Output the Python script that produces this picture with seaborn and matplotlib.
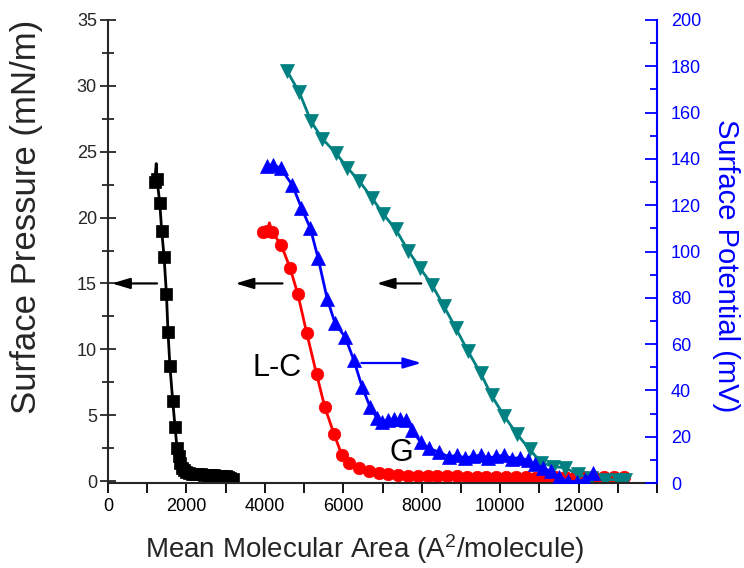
import matplotlib
matplotlib.use("Agg")
import matplotlib.pyplot as plt
import pandas as pd
import seaborn as sns
from matplotlib.ticker import MultipleLocator, FixedLocator

# ---- data ----
black_x = [1190, 1230, 1250, 1320, 1370, 1430, 1490, 1530, 1580, 1650, 1710, 1760, 1800,
           1840, 1880, 1930, 1990, 2060, 2140, 2220, 2300, 2380, 2460, 2540, 2620, 2700,
           2780, 2860, 2940, 3000, 3060, 3120, 3200]
black_y = [22.7, 24.1, 22.9, 21.1, 19.0, 17.0, 14.2, 11.3, 8.7, 6.1, 4.1, 2.5, 1.9,
           1.4, 1.0, 0.8, 0.7, 0.6, 0.55, 0.5, 0.5, 0.5, 0.45, 0.45, 0.45, 0.45,
           0.4, 0.4, 0.4, 0.35, 0.3, 0.25, 0.15]

red_x = [3940, 4065, 4115, 4190, 4420, 4640, 4840, 5070, 5320, 5530, 5760, 5960, 6150,
         6400, 6650, 6900, 7150, 7400, 7650, 7900, 8150, 8400, 8650, 8900, 9150, 9400,
         9650, 9900, 10150, 10400, 10650, 10900, 11150, 11400, 11650, 11900, 12150,
         12400, 12650, 12900, 13150]
red_y = [18.9, 19.0, 19.6, 18.9, 17.9, 16.2, 14.2, 11.2, 8.1, 5.6, 3.6, 2.0, 1.4,
         1.0, 0.75, 0.6, 0.5, 0.45, 0.4, 0.4, 0.35, 0.35, 0.35, 0.35, 0.3, 0.3,
         0.3, 0.3, 0.3, 0.3, 0.3, 0.25, 0.25, 0.3, 0.3, 0.3, 0.3,
         0.3, 0.3, 0.3, 0.3]

teal_x = [4570, 4880, 5180, 5460, 5810, 6100, 6400, 6730, 7010, 7340, 7650, 7950, 8260,
          8560, 8870, 9170, 9500, 9780, 10110, 10420, 10750, 11050, 11360, 11660, 11990,
          12320, 12670, 13000, 13180]
teal_y = [31.1, 29.5, 27.3, 26.0, 24.9, 23.8, 22.8, 21.5, 20.3, 19.1, 17.5, 16.2, 14.9,
          13.3, 11.6, 9.9, 8.2, 6.5, 4.9, 3.6, 2.4, 1.4, 1.1, 1.0, 0.5,
          0.2, 0.1, 0.1, 0.1]

blue_x = [4060, 4200, 4400, 4700, 4930, 5160, 5360, 5590, 5790, 6050, 6270, 6480, 6680,
          6860, 6990, 7150, 7300, 7450, 7600, 7750, 7970, 8180, 8430, 8690, 8900, 9100,
          9300, 9500, 9700, 9900, 10100, 10300, 10500, 10700, 10900, 11100, 11300, 11500,
          11730, 11950, 12170, 12370]
blue_y = [137, 137.5, 136, 128.7, 119, 110, 97, 79.5, 69, 63, 53, 41.5, 33,
          28, 26.5, 27, 27.5, 27.5, 27, 23, 17.7, 15, 13.4, 11.3, 12, 10.8,
          11.5, 12, 10.8, 11.5, 12, 10.5, 11, 9.8, 8.0, 6.5, 5.0, 2.6,
          0.8, 0.5, 1.5, 4.3]

x_ticks = [0, 2000, 4000, 6000, 8000, 10000, 12000]

# annotation arrows: (tail_x, head_x, y on pressure axis, colour)
arrows = [(1250, 100, 15.0, "black"),
          (4450, 3250, 15.0, "black"),
          (7990, 6850, 15.0, "black"),
          (6460, 7990, 8.96, "blue")]
phase_labels = [("L-C", 4320, 8.6), ("G", 7470, 2.1)]

x_label = "Mean Molecular Area (A$^2$/molecule)"
left_label = "Surface Pressure (mN/m)"
right_label = "Surface Potential (mV)"

# ---- style ----
sns.set_style("ticks")
plt.rcParams["font.family"] = ["Liberation Sans", "DejaVu Sans"]
plt.rcParams["mathtext.fontset"] = "custom"
plt.rcParams["mathtext.rm"] = "Liberation Sans"
plt.rcParams["mathtext.it"] = "Liberation Sans"

fig = plt.figure(figsize=(7.44, 5.68), dpi=100)
ax = fig.add_axes([108 / 744, 1 - 483 / 568, 549 / 744, 463 / 568])
ax2 = ax.twinx()


def draw(axis, xs, ys, color, marker, ms, skip=()):
    df = pd.DataFrame({"x": xs, "y": ys})
    me = [i for i in range(len(xs)) if i not in skip]
    sns.lineplot(data=df, x="x", y="y", ax=axis, color=color, marker=marker,
                 markersize=ms, markeredgecolor=color, markeredgewidth=0.5,
                 linewidth=2, sort=False, estimator=None, markevery=me,
                 legend=False)


draw(ax, black_x, black_y, "black", "s", 8, skip=(1,))
draw(ax, red_x, red_y, "#ff0000", "o", 9, skip=(2,))
draw(ax, teal_x, teal_y, "#008080", "v", 9.5)
draw(ax2, blue_x, blue_y, "#0000ff", "^", 9.5)

for tx, hx, yy, col in arrows:
    ax.annotate("", xy=(hx, yy), xytext=(tx, yy),
                arrowprops=dict(arrowstyle="-|>,head_length=0.6,head_width=0.18",
                                color=col, lw=1.6, mutation_scale=18,
                                shrinkA=0, shrinkB=0))
for txt, xx, yy in phase_labels:
    ax.text(xx, yy, txt, fontsize=22, ha="center", va="center", color="black")

# ---- axes ----
ax.set_xlim(0, 14000)
ax.set_ylim(-0.15, 35)
ax2.set_ylim(0, 200)
ax.xaxis.set_major_locator(FixedLocator(x_ticks))
ax.xaxis.set_minor_locator(MultipleLocator(1000))
ax.yaxis.set_major_locator(MultipleLocator(5))
ax.yaxis.set_minor_locator(MultipleLocator(2.5))
ax2.yaxis.set_major_locator(MultipleLocator(20))
ax2.yaxis.set_minor_locator(MultipleLocator(10))

for a in (ax, ax2):
    a.spines["top"].set_visible(False)
    for s in a.spines.values():
        s.set_linewidth(1.5)
ax.spines["right"].set_visible(False)
ax2.spines["left"].set_visible(False)
ax2.spines["bottom"].set_visible(False)
ax2.spines["right"].set_color("#0000ff")

ax.tick_params(axis="x", which="both", direction="out", length=7, width=1.3,
               labelsize=13, pad=4, colors="black")
ax.tick_params(axis="y", which="major", direction="inout", length=12, width=1.3,
               labelsize=13, pad=2)
ax.tick_params(axis="y", which="minor", direction="inout", length=8, width=1.3)
ax2.tick_params(axis="y", which="major", direction="in", length=9, width=1.3,
                labelsize=13, pad=10, colors="#0000ff")
ax2.tick_params(axis="y", which="minor", direction="in", length=5, width=1.3,
                colors="#0000ff")

ax.set_xlabel(x_label, fontsize=20)
ax.xaxis.set_label_coords(0.468, -0.106)
ax.set_ylabel(left_label, fontsize=25)
ax.yaxis.set_label_coords(-0.118, 0.575)
ax2.set_ylabel(right_label, fontsize=21, color="#0000ff", rotation=270, va="bottom")
ax2.yaxis.set_label_coords(1.100, 0.47)

fig.savefig("out.png", dpi=100)
